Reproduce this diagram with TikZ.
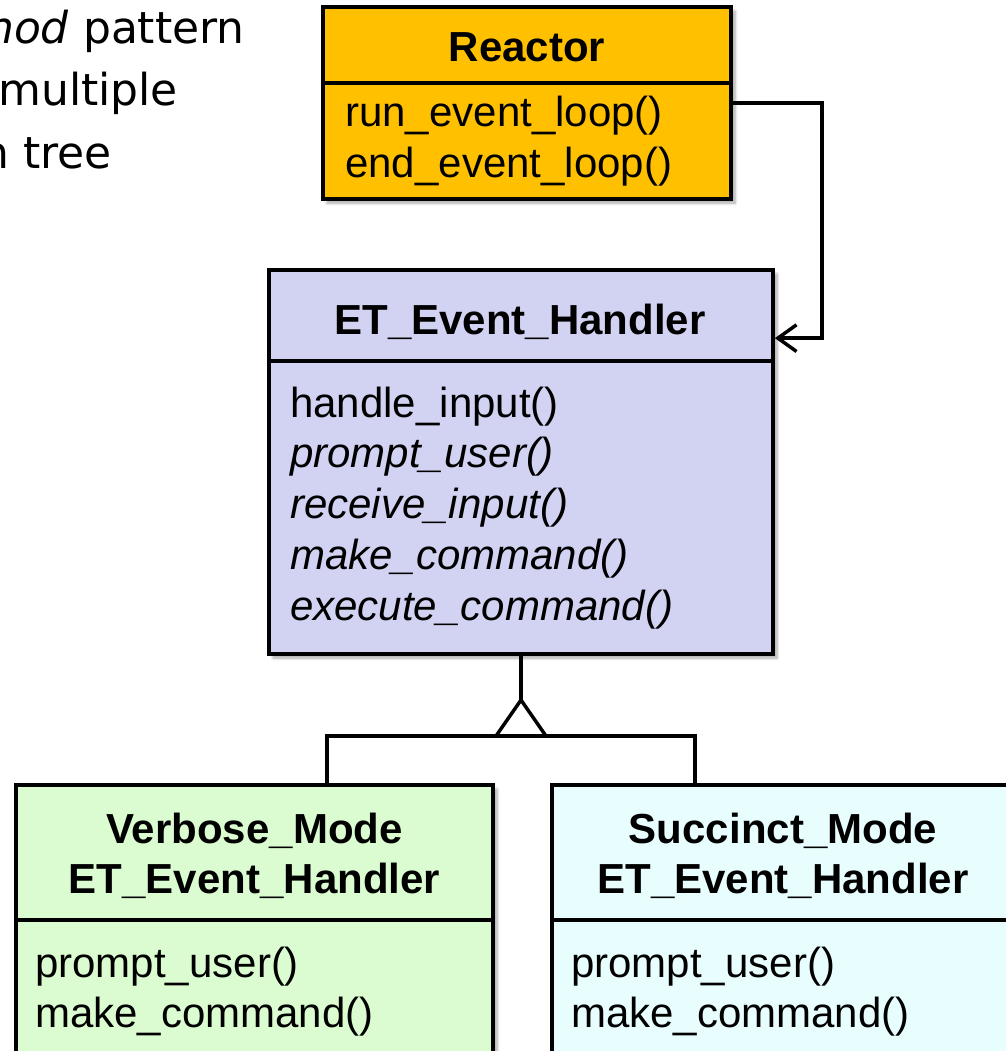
\documentclass[tikz,border=0pt]{standalone}
\usepackage{fontspec}
\setmainfont{Liberation Sans}
\newfontfamily\notefont{DejaVu Sans}
\usepackage{tikz}
\usetikzlibrary{arrows.meta}
\usetikzlibrary{shadows.blur}
\definecolor{reactorfill}{RGB}{255,192,0}
\definecolor{basefill}{RGB}{210,210,242}
\definecolor{verbosefill}{RGB}{218,252,208}
\definecolor{succinctfill}{RGB}{232,254,254}
\tikzset{
  classbox/.style={draw, line width=2.8pt, inner sep=0, blur shadow={shadow xshift=3pt, shadow yshift=-3pt, shadow blur steps=6, shadow opacity=35}},
  member/.style={anchor=base west, inner sep=0, font=\fontsize{31.5}{37}\selectfont},
  title/.style={anchor=base, inner sep=0, font=\fontsize{31.5}{37}\selectfont\bfseries},
  note/.style={inner sep=0, font=\notefont\fontsize{33}{40}\selectfont},
  wire/.style={line width=2.6pt}
}

\begin{document}
\begin{tikzpicture}[x=0.75pt, y=-0.75pt]
      \useasboundingbox (0,0) rectangle (1006,1051);
      \clip (0,0) rectangle (1006,1051);
      \node[note, anchor=base east] (n1) at (245,43) {\textit{hod} pattern};
      \node[note, anchor=base west] (n2) at (-2,105) {multiple};
      \node[note, anchor=base east] (n3) at (112,168) {n tree};
      % classes
      \node[classbox, fill=reactorfill, minimum width=306pt, minimum height=144pt] (reactor) at (527,103) {};
      \node[classbox, fill=basefill, minimum width=378pt, minimum height=288pt] (et) at (521,462) {};
      \node[classbox, fill=verbosefill, minimum width=357.75pt, minimum height=221.25pt] (verbose) at (254.5,932.5) {};
      \node[classbox, fill=succinctfill, minimum width=346.5pt, minimum height=221.25pt] (succinct) at (783,932.5) {};
      \draw[wire] (reactor.west |- 0,83) -- (reactor.east |- 0,83);
      \draw[wire] (et.west |- 0,361) -- (et.east |- 0,361);
      \draw[wire] (verbose.west |- 0,920) -- (verbose.east |- 0,920);
      \draw[wire] (succinct.west |- 0,920) -- (succinct.east |- 0,920);
      % texts
      \node[title] (rt) at (527,61) {Reactor};
      \node[member] (r1) at (345,126) {run\_event\_loop()};
      \node[member] (r2) at (345,177) {end\_event\_loop()};
      \node[title] (et0) at (520,334) {ET\_Event\_Handler};
      \node[member] (e1) at (290,417) {handle\_input()};
      \node[member] (e2) at (290,467) {\itshape prompt\_user()};
      \node[member] (e3) at (290,518) {\itshape receive\_input()};
      \node[member] (e4) at (290,569) {\itshape make\_command()};
      \node[member] (e5) at (290,620) {\itshape execute\_command()};
      \node[title] (vt1) at (254.5,843) {Verbose\_Mode};
      \node[title] (vt2) at (254.5,893) {ET\_Event\_Handler};
      \node[member] (v1) at (35,977) {prompt\_user()};
      \node[member] (v2) at (35,1027) {make\_command()};
      \node[title] (st1) at (783,843) {Succinct\_Mode};
      \node[title] (st2) at (783,893) {ET\_Event\_Handler};
      \node[member] (s1) at (571,977) {prompt\_user()};
      \node[member] (s2) at (571,1027) {make\_command()};
      % connectors
      \draw[wire, -{Straight Barb[length=14pt, width=20pt]}] (reactor.east) -- ++(89,0) |- ([yshift=-52.5pt]et.north east);
      \coordinate (apex) at (521,700);
      \coordinate (fork) at (521,736);
      \draw[wire] (et.south) -- (apex);
      \draw[wire, line join=miter] (apex) -- ++(-25,36) -- ++(50,0) -- cycle;
      \draw[wire] ([xshift=54.4pt]verbose.north) |- (fork) -| ([xshift=-66pt]succinct.north);
\end{tikzpicture}
\end{document}
